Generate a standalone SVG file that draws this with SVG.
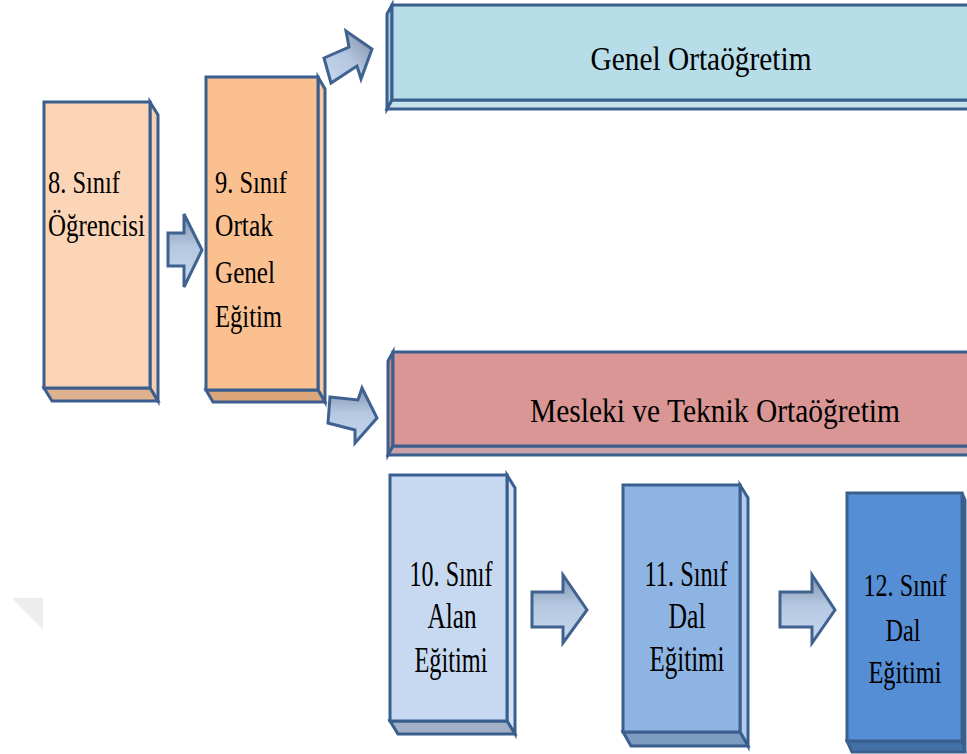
<svg xmlns="http://www.w3.org/2000/svg" width="967" height="754" viewBox="0 0 967 754">
<defs>
<linearGradient id="ag" x1="0" y1="0" x2="0" y2="1">
<stop offset="0" stop-color="#8294AC"/>
<stop offset="0.45" stop-color="#B5C8E1"/>
<stop offset="1" stop-color="#C8D9EF"/>
</linearGradient>
<linearGradient id="ag2" x1="1" y1="0" x2="0" y2="1">
<stop offset="0" stop-color="#7A889C"/>
<stop offset="0.5" stop-color="#B3C6DF"/>
<stop offset="1" stop-color="#C8D9EF"/>
</linearGradient>
</defs>
<style>
.e{stroke:#3A5F8E;stroke-width:3;stroke-linejoin:miter}
.a{stroke:#3F6290;stroke-width:3;stroke-linejoin:miter;fill:url(#ag)}
.t{font-family:"Liberation Serif","Times New Roman",serif;fill:#000}
.s{font-size:31px}
.m{font-size:36px;text-anchor:middle}
.h{font-size:34px;text-anchor:middle}
.k{font-size:31px;text-anchor:middle}
</style>
<rect width="967" height="754" fill="#FFFFFF"/>
<polygon points="12,598 43,598 43,630" fill="#EDEDED"/>

<g id="genel">
<polygon class="e" points="392,5 387,14 387,109 392,100" fill="#A9D2DE"/>
<polygon class="e" points="392,100 990,100 985,109 387,109" fill="#C3E2EC"/>
<rect class="e" x="392" y="5" width="600" height="95" fill="#B7DDE8"/>
<text class="t h" x="701" y="70" textLength="221" lengthAdjust="spacingAndGlyphs">Genel Ortaöğretim</text>
</g>

<g id="mesleki">
<polygon class="e" points="393,352 388,361 388,455 393,446" fill="#CC8886"/>
<polygon class="e" points="393,446 990,446 985,455 388,455" fill="#C8A2A8"/>
<rect class="e" x="393" y="352" width="600" height="94" fill="#D99694"/>
<text class="t h" x="715" y="422" textLength="370" lengthAdjust="spacingAndGlyphs">Mesleki ve Teknik Ortaöğretim</text>
</g>

<g id="sinif8">
<polygon class="e" points="150,102 158,115 158,401 150,388" fill="#F5CFB0"/>
<polygon class="e" points="44,388 150,388 158,401 52,401" fill="#DDB08E"/>
<rect class="e" x="44" y="102" width="106" height="286" fill="#FBD5B5"/>
<text class="t s" x="48" y="193" textLength="72" lengthAdjust="spacingAndGlyphs">8. Sınıf</text>
<text class="t s" x="48" y="236" textLength="97" lengthAdjust="spacingAndGlyphs">Öğrencisi</text>
</g>

<g id="sinif9">
<polygon class="e" points="318,77 325,89 325,402 318,390" fill="#F8C89E"/>
<polygon class="e" points="206,390 318,390 325,402 213,402" fill="#DCA57A"/>
<rect class="e" x="206" y="77" width="112" height="313" fill="#FAC090"/>
<text class="t s" x="215" y="193" textLength="72" lengthAdjust="spacingAndGlyphs">9. Sınıf</text>
<text class="t s" x="215" y="236" textLength="58" lengthAdjust="spacingAndGlyphs">Ortak</text>
<text class="t s" x="215" y="283" textLength="60" lengthAdjust="spacingAndGlyphs">Genel</text>
<text class="t s" x="215" y="327" textLength="67" lengthAdjust="spacingAndGlyphs">Eğitim</text>
</g>

<g id="sinif10">
<polygon class="e" points="507,475 515,488 515,734 507,721" fill="#D4E2F4"/>
<polygon class="e" points="390,721 507,721 515,734 398,734" fill="#A2B1C6"/>
<rect class="e" x="390" y="475" width="117" height="246" fill="#C6D9F1"/>
<text class="t m" x="451" y="586" textLength="83" lengthAdjust="spacingAndGlyphs">10. Sınıf</text>
<text class="t m" x="452" y="628" textLength="49" lengthAdjust="spacingAndGlyphs">Alan</text>
<text class="t m" x="451" y="672" textLength="73" lengthAdjust="spacingAndGlyphs">Eğitimi</text>
</g>

<g id="sinif11">
<polygon class="e" points="740,485 748,498 748,746 740,732" fill="#B3CAEA"/>
<polygon class="e" points="623,732 740,732 748,746 631,746" fill="#7E9BC0"/>
<rect class="e" x="623" y="485" width="117" height="247" fill="#8EB4E3"/>
<text class="t m" x="686" y="586" textLength="83" lengthAdjust="spacingAndGlyphs">11. Sınıf</text>
<text class="t m" x="687" y="628" textLength="37" lengthAdjust="spacingAndGlyphs">Dal</text>
<text class="t m" x="687" y="671" textLength="75" lengthAdjust="spacingAndGlyphs">Eğitimi</text>
</g>

<g id="sinif12">
<polygon class="e" points="962,493 965,500 965,752 962,741" fill="#7FA6DA"/>
<polygon class="e" points="847,741 962,741 965,752 852,752" fill="#4470A8"/>
<rect class="e" x="847" y="493" width="115" height="248" fill="#558ED5"/>
<text class="t k" x="905" y="596" textLength="83" lengthAdjust="spacingAndGlyphs">12. Sınıf</text>
<text class="t k" x="903" y="641" textLength="35" lengthAdjust="spacingAndGlyphs">Dal</text>
<text class="t k" x="905" y="683" textLength="73" lengthAdjust="spacingAndGlyphs">Eğitimi</text>
</g>

<g id="connectors">
<polygon class="a" points="168,233 184,233 184,214 202,250 184,287 184,266 168,266"/>
<polygon class="a" style="fill:url(#ag2)" points="324,58 349,47 346,31 372,49 361,79 357,66 331,83"/>
<polygon class="a" points="330,397 358,400 362,388 377,418 355,443 355,430 328,423"/>
<polygon class="a" points="532,592 563,592 563,575 587,610 563,643 563,627 532,627"/>
<polygon class="a" points="780,592 812,592 812,575 835,610 812,643 812,627 780,627"/>
</g>
</svg>
